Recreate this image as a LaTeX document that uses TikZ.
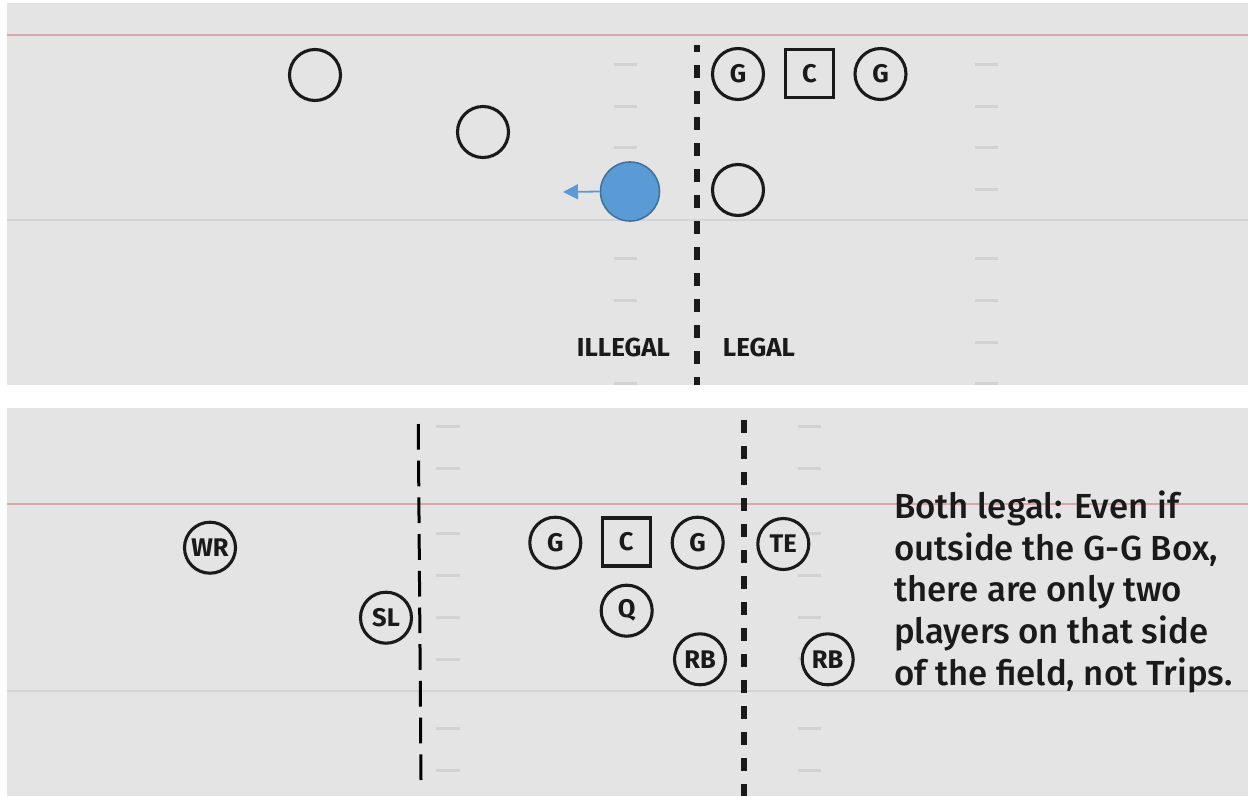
\documentclass[tikz,border=0pt]{standalone}
\usepackage{fontspec}
\setmainfont{Fira Sans}
\newfontfamily\notefont{Fira Sans Medium}
\usetikzlibrary{arrows.meta}
\definecolor{field}{HTML}{E4E4E4}
\definecolor{redline}{HTML}{D9A6A8}
\definecolor{greyline}{HTML}{D4D4D4}
\definecolor{hashc}{HTML}{D2D2D2}
\definecolor{ink}{HTML}{1A1A1A}
\definecolor{bluefill}{HTML}{5B9BD5}
\definecolor{blueedge}{HTML}{41719C}
\tikzset{
  player/.style={circle, draw=ink, line width=3.1pt, fill=field, minimum size=51pt,
    inner sep=0pt, text=ink, font=\fontsize{25.5}{25.5}\selectfont\bfseries},
  center/.style={rectangle, draw=ink, line width=3.1pt, fill=field, minimum size=48pt,
    inner sep=0pt, text=ink, font=\fontsize{25.5}{25.5}\selectfont\bfseries},
  hash/.style={draw=hashc, line width=3pt},
  scrim/.style={draw=ink, line width=6.5pt, dash pattern=on 13pt off 13pt},
  longdash/.style={draw=black, line width=3pt, dash pattern=on 25.7pt off 11pt},
  sideword/.style={text=ink, inner sep=0pt, anchor=base, font=\fontsize{26}{26}\selectfont\bfseries},
  noteline/.style={text=ink, inner sep=0pt, anchor=base west, font=\notefont\fontsize{34.8}{40}\selectfont},
}
\begin{document}
\begin{tikzpicture}[x=1pt, y=-1pt]
\useasboundingbox (0,0) rectangle (1248,796);
% panels
\fill[white] (0,0) rectangle (1248,796);
\fill[field] (7,3) rectangle (1248,384.5);
\fill[field] (7,408) rectangle (1248,796);

% ---- upper panel: field lines ----
\draw[redline, line width=2pt] (7,35) -- (1248,35);
\draw[greyline, line width=2pt] (7,220) -- (1248,220);
\foreach \y in {64,106,147,258,300,383} \draw[hash] (614,\y) -- (637,\y);
\foreach \y in {64,106,147,189,258,300,342,383} \draw[hash] (975,\y) -- (998,\y);
\draw[scrim, dash phase=6pt] (697,45) -- (697,384.5);

% ---- upper panel: players ----
\node[player] (d1) at (315,75) {};
\node[player] (d2) at (483,132) {};
\node[player] (tg) at (738,74) {G};
\node[center] (tc) at (809.5,73.5) {C};
\node[player] (tg2) at (880.5,74) {G};
\node[player] (d3) at (738,190) {};
\node[circle, fill=bluefill, draw=blueedge, line width=1.6pt, minimum size=59pt, inner sep=0pt] (mover) at (630,191.5) {};
\coordinate (motion) at (563,192);
\draw[bluefill, line width=1.8pt, -{Triangle[length=15pt, width=15pt]}] (mover.west) -- (motion);
\node[sideword] (illegal) at (623.5,356) {ILLEGAL};
\node[sideword] (legal) at (759,356) {LEGAL};

% ---- lower panel: field lines ----
\draw[redline, line width=2pt] (7,503.7) -- (1248,503.7);
\draw[greyline, line width=2pt] (7,691) -- (1248,691);
\foreach \y in {426,468,533,575,617,659,728,770} \draw[hash] (436,\y) -- (460,\y);
\foreach \y in {426,468,533,575,617,658,728,770} \draw[hash] (798,\y) -- (821,\y);
\draw[longdash] (418.3,424) -- (421,780);
\draw[scrim] (744,420) -- (744,796);

% ---- lower panel: players ----
\node[player] (wr) at (210,547.7) {WR};
\node[player] (sl) at (386,617.7) {SL};
\node[player] (lg) at (555.3,542.7) {G};
\node[center] (c) at (626.3,542) {C};
\node[player] (rg) at (697.7,542.7) {G};
\node[player] (te) at (783.3,544) {TE};
\node[player] (q) at (626.7,610.7) {Q};
\node[player] (rb1) at (700,659.3) {RB};
\node[player] (rb2) at (827.7,659.3) {RB};

% ---- note ----
\node[noteline] (n1) at (894,518) {Both legal: Even if};
\node[noteline] (n2) at (894,560) {outside the G-G Box,};
\node[noteline] (n3) at (894,601.7) {there are only two};
\node[noteline] (n4) at (894,643.5) {players on that side};
\node[noteline] (n5) at (894,685.3) {of the field, not Trips.};
\end{tikzpicture}
\end{document}
